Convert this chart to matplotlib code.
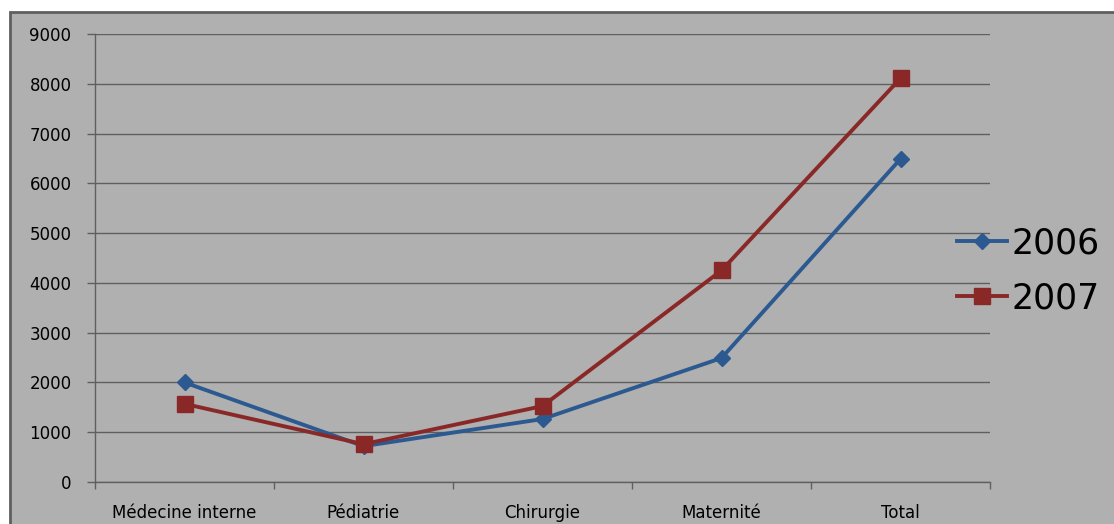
import matplotlib
matplotlib.use("Agg")
import matplotlib.pyplot as plt
from matplotlib.patches import Rectangle
import numpy as np

categories = ["Médecine interne", "Pédiatrie", "Chirurgie", "Maternité", "Total"]
values_2006 = [2000, 720, 1265, 2490, 6490]
values_2007 = [1570, 760, 1525, 4250, 8110]
years = ["2006", "2007"]

BG = "#b0b0b0"
GRID = "#5f5f5f"
BLUE = "#2c5a90"
RED = "#8a2828"

plt.rcParams['font.family'] = ['DejaVu Sans']

fig = plt.figure(figsize=(11.14, 5.24), dpi=100, facecolor="white")
# chart area background with border
fig.patches.append(Rectangle((10 / 1114, -0.05), 1.2, 1 - 12 / 524 + 0.05,
                             transform=fig.transFigure, facecolor=BG,
                             edgecolor=GRID, linewidth=2, zorder=-10))

ax = fig.add_axes([95 / 1114, 1 - 482 / 524, (990 - 95) / 1114, (482 - 34) / 524])
ax.set_zorder(2)
ax.set_facecolor(BG)

x = np.arange(len(categories))
ax.set_xlim(-0.5, len(categories) - 0.5)
ax.set_ylim(0, 9000)
ax.set_yticks(range(0, 9001, 1000))
ax.yaxis.grid(True, color=GRID, linewidth=1)
ax.set_axisbelow(True)

ax.set_xticks(x)
ax.set_xticklabels(categories)
ax.set_xticks(np.arange(-0.5, len(categories), 1), minor=True)
ax.tick_params(axis="x", which="major", length=0, pad=16, labelsize=12)
ax.tick_params(axis="x", which="minor", length=5, color=GRID, width=1)
ax.tick_params(axis="y", length=6, color=GRID, width=1, pad=11, labelsize=12)

for s in ["top", "right"]:
    ax.spines[s].set_visible(False)
for s in ["left", "bottom"]:
    ax.spines[s].set_color(GRID)
    ax.spines[s].set_linewidth(1)

ax.plot(x, values_2006, color=BLUE, linewidth=2.8, marker="D", markersize=8,
        label=years[0], zorder=3)
ax.plot(x, values_2007, color=RED, linewidth=2.8, marker="s", markersize=11.5,
        label=years[1], zorder=4)

handles, labels = ax.get_legend_handles_labels()
leg = fig.legend(handles, labels, loc="center left", bbox_to_anchor=(957 / 1114, 1 - 271 / 524),
                 frameon=False, fontsize=25, handlelength=1.45, handletextpad=0.12,
                 labelspacing=0.6, borderaxespad=0, borderpad=0)
leg.set_zorder(3)

fig.savefig("out.png", dpi=100, facecolor=fig.get_facecolor())
